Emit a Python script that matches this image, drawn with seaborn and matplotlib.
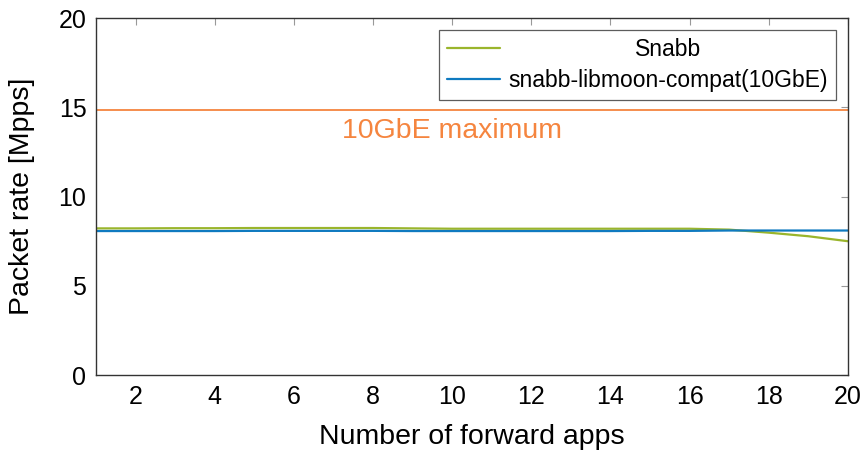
import matplotlib
matplotlib.use("Agg")
import matplotlib.pyplot as plt
import seaborn as sns
import pandas as pd

# data
apps = list(range(1, 21))
snabb = [8.22, 8.22, 8.23, 8.23, 8.24, 8.24, 8.24, 8.24, 8.22, 8.2,
         8.2, 8.2, 8.2, 8.2, 8.2, 8.2, 8.15, 7.98, 7.78, 7.5]
libmoon = [8.07, 8.07, 8.07, 8.07, 8.08, 8.08, 8.08, 8.08, 8.07, 8.07,
           8.07, 8.07, 8.07, 8.07, 8.08, 8.08, 8.1, 8.1, 8.1, 8.1]
series_names = ["Snabb", "snabb-libmoon-compat(10GbE)"]
max_rate = 14.88
max_label = "10GbE maximum"

GREEN = "#9ab52c"
BLUE = "#0f7ac0"
ORANGE = "#f5853f"

df = pd.DataFrame({
    "apps": apps * 2,
    "rate": snabb + libmoon,
    "series": [series_names[0]] * len(apps) + [series_names[1]] * len(apps),
})

sns.set_style("white")
plt.rcParams["font.family"] = ["Liberation Sans", "DejaVu Sans"]
plt.rcParams["text.color"] = "black"

fig = plt.figure(figsize=(8.66, 4.53), dpi=100)
ax = fig.add_axes([0.111, 0.172, 0.868, 0.788])

sns.lineplot(data=df, x="apps", y="rate", hue="series",
             palette=[GREEN, BLUE], linewidth=1.6, ax=ax, legend=True)
ax.axhline(max_rate, color=ORANGE, linewidth=1.3, zorder=1)
ax.text(10.0, 13.65, max_label, color=ORANGE, fontsize=20.5,
        ha="center", va="center")

ax.set_xlim(1, 20)
ax.set_ylim(0, 20)
ax.set_xticks(range(2, 21, 2))
ax.set_yticks(range(0, 21, 5))
ax.tick_params(direction="in", length=5, color="#999999", labelsize=18,
               labelcolor="black", top=True, right=True, pad=7)
ax.set_xlabel("Number of forward apps", fontsize=20.5, labelpad=11, color="black")
ax.set_ylabel("Packet rate [Mpps]", fontsize=20.5, labelpad=17, color="black")
for s in ax.spines.values():
    s.set_color("#333333")
    s.set_linewidth(1.0)

leg = ax.legend(loc="upper right", fontsize=16.5, frameon=True, fancybox=False,
                edgecolor="#333333", handlelength=2.3, borderaxespad=0.5,
                labelspacing=0.35, handletextpad=0.4, borderpad=0.35)
leg.get_frame().set_linewidth(0.9)
for t in leg.get_texts():
    t.set_color("black")

# centre the short label like pgfplots does
fig.canvas.draw()
texts = leg.get_texts()
r = fig.canvas.get_renderer()
w0 = texts[0].get_window_extent(r).width
w1 = texts[1].get_window_extent(r).width
texts[0].set_x((w1 - w0) / 2)

fig.savefig("out.png", dpi=100)
